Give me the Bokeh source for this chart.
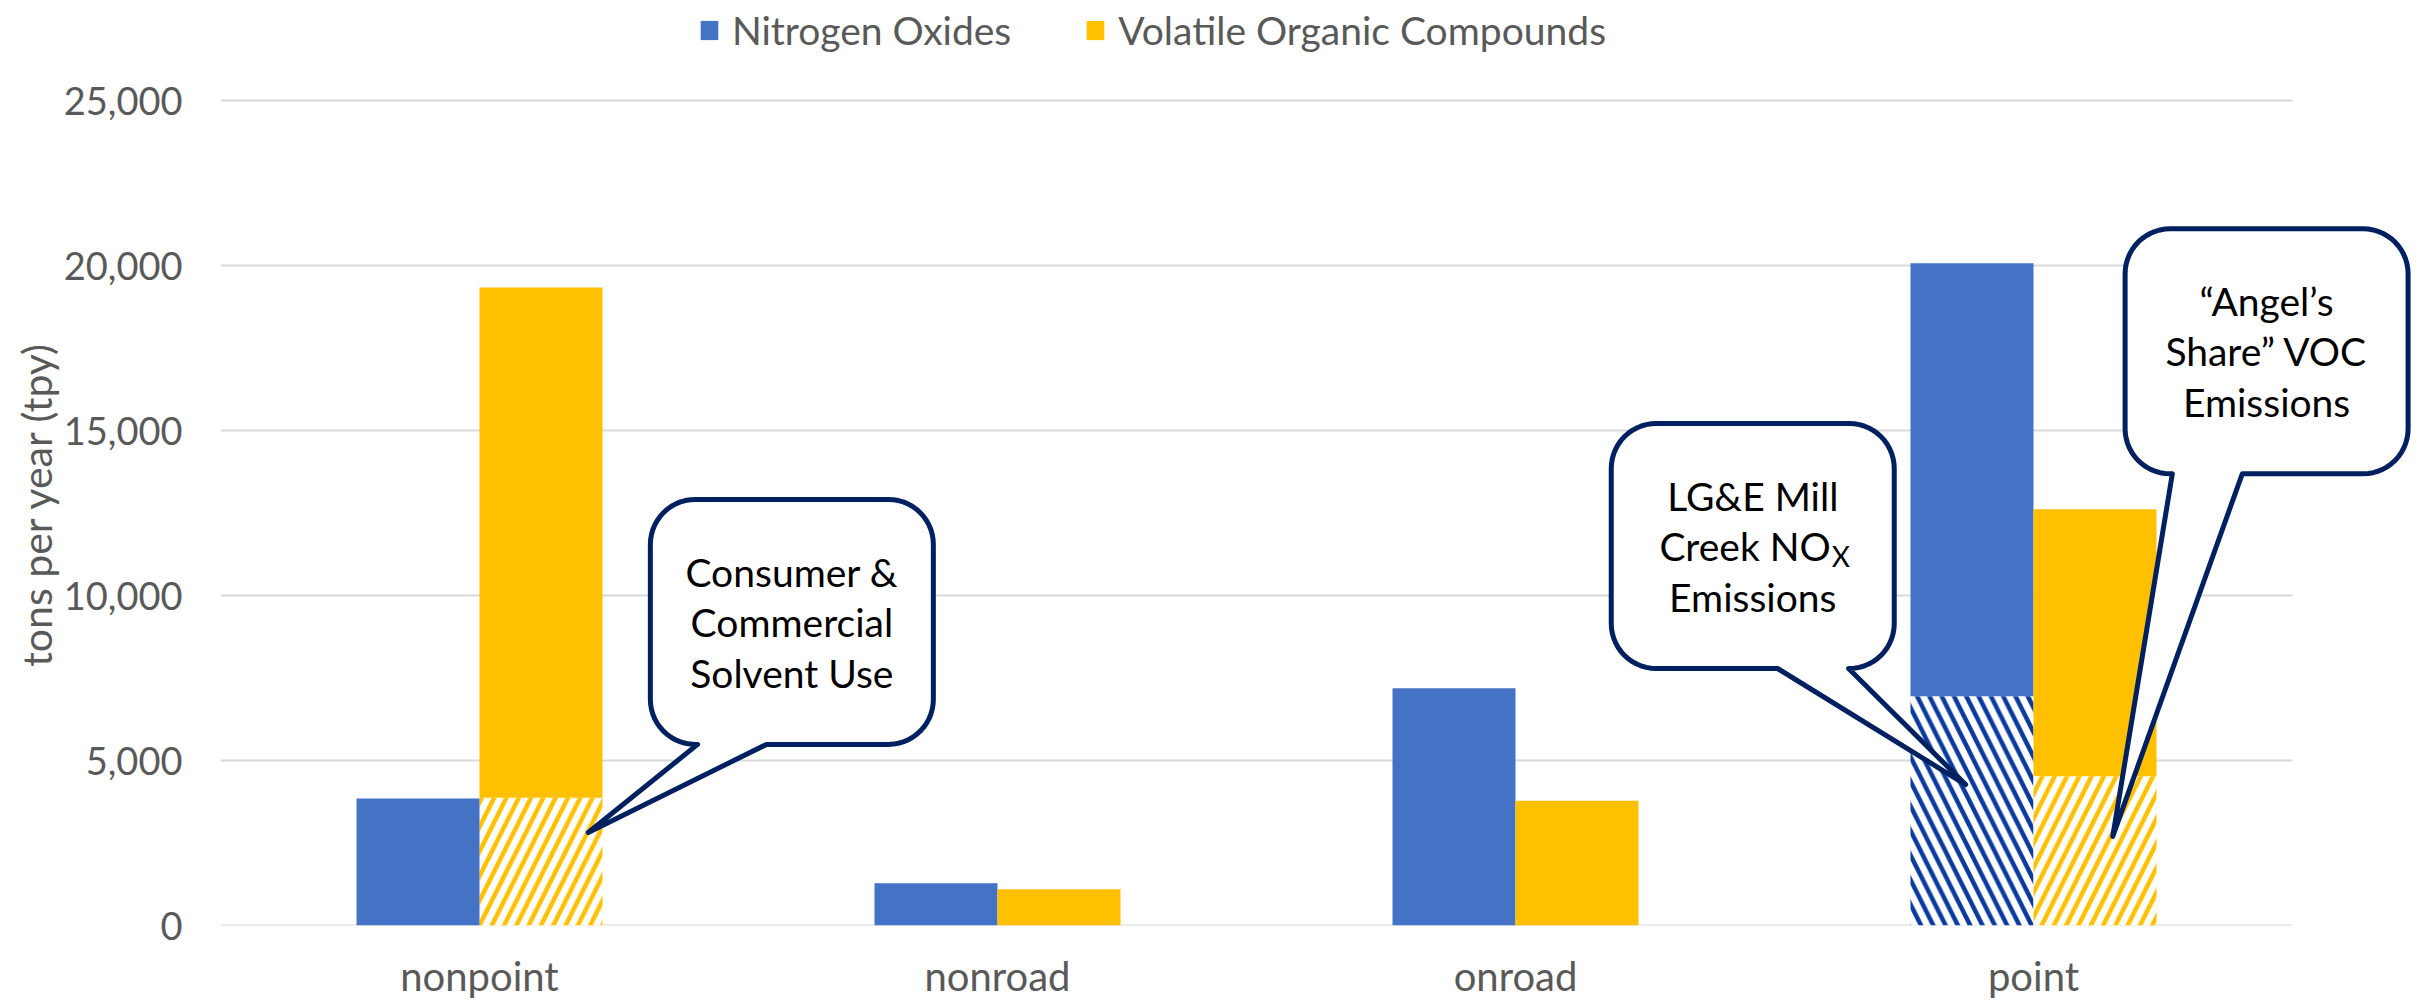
import math
from bokeh.plotting import figure
from bokeh.models import (FixedTicker, NumeralTickFormatter, Legend, LegendItem, Range1d)
from bokeh.core.properties import value
from bokeh.embed import file_html
from bokeh.resources import INLINE

# ---------------- data ----------------
categories = ["nonpoint", "nonroad", "onroad", "point"]
series_names = ["Nitrogen Oxides", "Volatile Organic Compounds"]
nox_total = [3850, 1280, 7190, 20070]
voc_total = [19330, 1100, 3780, 12610]
nox_hatched = [0, 0, 0, 6950]      # LG&E Mill Creek NOx
voc_hatched = [3870, 0, 0, 4520]   # consumer solvents / "Angel's share"
y_ticks = [0, 5000, 10000, 15000, 20000, 25000]
y_label = "tons per year (tpy)"

# callouts: text lines, box centre (category units, tons), tail tip, tail base x's
callouts = [
    dict(lines=["Consumer &", "Commercial", "Solvent Use"],
         cx=1.103, cy=9200, tip=(0.710, 2820), base=(0.921, 1.054)),
    dict(lines=["LG&E Mill", ("Creek NO", "X"), "Emissions"],
         cx=2.958, cy=11500, tip=(3.369, 4270), base=(3.006, 3.143)),
    dict(lines=["\u201cAngel\u2019s", "Share\u201d VOC", "Emissions"],
         cx=3.950, cy=17400, tip=(3.653, 2700), base=(3.768, 3.903)),
]

# ---------------- style ----------------
BLUE = "#4472C4"
YELLOW = "#FFC000"
NAVY = "#002060"
HATCH_BLUE = "#0B3A9E"
GRID = "#D9D9D9"
TEXT = "#595959"
FONT = "Lato"

W, H = 2417, 1002
LEFT, BOTTOM = 220, 77
AXIS_TOP_PX = 100                    # pixel row of the top gridline
frame_w = W - LEFT
frame_h = H - BOTTOM
CAT_PX = 518.0                       # pixels per category
x_end = frame_w / CAT_PX
PX_PER_TON = (frame_h - AXIS_TOP_PX) / float(y_ticks[-1])
y_end = frame_h / PX_PER_TON
bar_w = 123.0 / CAT_PX

p = figure(width=W, height=H,
           x_range=Range1d(0, x_end), y_range=Range1d(0, y_end),
           min_border_left=LEFT, min_border_right=0,
           min_border_top=0, min_border_bottom=BOTTOM,
           toolbar_location=None, output_backend="svg")
p.outline_line_color = None
p.xgrid.visible = False
p.ygrid.visible = False
p.background_fill_color = "white"
p.border_fill_color = "white"

# gridlines (span only the 4 categories)
p.segment(x0=[0] * len(y_ticks), x1=[len(categories)] * len(y_ticks),
          y0=y_ticks, y1=y_ticks, line_color=GRID, line_width=2)

nox_x = [i + 0.5 - bar_w / 2 for i in range(len(categories))]
voc_x = [i + 0.5 + bar_w / 2 for i in range(len(categories))]

# hatched lower parts
p.vbar(x=nox_x, width=bar_w, bottom=0, top=nox_hatched,
       fill_color="white", line_color=None,
       hatch_pattern="\\", hatch_color=HATCH_BLUE, hatch_scale=24.6, hatch_weight=4.5)
p.vbar(x=voc_x, width=bar_w, bottom=0, top=voc_hatched,
       fill_color="white", line_color=None,
       hatch_pattern="/", hatch_color=YELLOW, hatch_scale=24.6, hatch_weight=4.5)

# solid parts
r_nox = p.vbar(x=nox_x, width=bar_w, bottom=nox_hatched, top=nox_total,
               fill_color=BLUE, line_color=None)
r_voc = p.vbar(x=voc_x, width=bar_w, bottom=voc_hatched, top=voc_total,
               fill_color=YELLOW, line_color=None)

# ---------------- callouts ----------------
BOX_W, BOX_H, RAD = 283.0, 245.0, 45.0
LINE_OFFS = [50, 0, -51]  # px, up positive


def callout_path(c):
    a, b, r = BOX_W / 2, BOX_H / 2, RAD
    pts = []

    def arc(ccx, ccy, a0, a1, n=14):
        for k in range(n + 1):
            t = math.radians(a0 + (a1 - a0) * k / n)
            pts.append((ccx + r * math.cos(t), ccy + r * math.sin(t)))

    pts.append((-a + r, b))
    arc(a - r, b - r, 90, 0)
    arc(a - r, -b + r, 0, -90)
    bx1 = (c["base"][0] - c["cx"]) * CAT_PX
    bx2 = (c["base"][1] - c["cx"]) * CAT_PX
    tx = (c["tip"][0] - c["cx"]) * CAT_PX
    ty = (c["tip"][1] - c["cy"]) * PX_PER_TON
    pts += [(bx2, -b), (tx, ty), (bx1, -b)]
    arc(-a + r, -b + r, -90, -180)
    arc(-a + r, b - r, 180, 90)
    xs = [c["cx"] + px / CAT_PX for px, py in pts]
    ys = [c["cy"] + py / PX_PER_TON for px, py in pts]
    return xs, ys


for c in callouts:
    xs, ys = callout_path(c)
    p.patch(xs, ys, fill_color="white", line_color=NAVY, line_width=5,
            line_join="round")
    for line, off in zip(c["lines"], LINE_OFFS):
        yy = c["cy"] + off / PX_PER_TON
        if isinstance(line, tuple):
            main, sub = line
            xr = c["cx"] + 78 / CAT_PX
            p.text(x=[xr], y=[yy], text=[main], text_align="right",
                   text_baseline="middle", text_font=value(FONT),
                   text_font_size="39px", text_color="black")
            p.text(x=[xr + 1 / CAT_PX], y=[yy - 10 / PX_PER_TON], text=[sub],
                   text_align="left", text_baseline="middle",
                   text_font=value(FONT), text_font_size="28px",
                   text_color="black")
        else:
            p.text(x=[c["cx"]], y=[yy], text=[line], text_align="center",
                   text_baseline="middle", text_font=value(FONT),
                   text_font_size="39px", text_color="black")

# ---------------- axes ----------------
xa = p.xaxis[0]
xa.ticker = FixedTicker(ticks=[i + 0.5 for i in range(len(categories))])
xa.major_label_overrides = {i + 0.5: cat for i, cat in enumerate(categories)}
xa.axis_line_color = None
xa.major_tick_line_color = None
xa.minor_tick_line_color = None
xa.major_tick_out = 0
xa.major_tick_in = 0
xa.major_label_text_font = FONT
xa.major_label_text_font_size = "40px"
xa.major_label_text_color = TEXT
xa.major_label_standoff = 26

ya = p.yaxis[0]
ya.ticker = FixedTicker(ticks=y_ticks)
ya.formatter = NumeralTickFormatter(format="0,0")
ya.axis_line_color = None
ya.major_tick_line_color = None
ya.minor_tick_line_color = None
ya.major_tick_out = 0
ya.major_tick_in = 0
ya.major_label_text_font = FONT
ya.major_label_text_font_size = "38px"
ya.major_label_text_color = TEXT
ya.major_label_standoff = 38
# trailing em/en spaces shift the (frame-centred) title down so that it is
# centred on the 0..25,000 span as in the original
ya.axis_label = y_label + "\u2003\u2003\u2002"
ya.axis_label_text_font = FONT
ya.axis_label_text_font_size = "41px"
ya.axis_label_text_font_style = "normal"
ya.axis_label_text_color = TEXT
ya.axis_label_standoff = 0

# ---------------- legend (top of the plot area) ----------------
legend = Legend(items=[LegendItem(label=series_names[0], renderers=[r_nox]),
                       LegendItem(label=series_names[1], renderers=[r_voc])],
                orientation="horizontal", location=(478, frame_h - 53),
                glyph_width=22, glyph_height=24, label_standoff=12,
                spacing=73, padding=0, margin=0,
                border_line_color=None, background_fill_alpha=0,
                label_text_font=FONT, label_text_font_size="39px",
                label_text_line_height=1.0,
                label_text_color=TEXT)
p.add_layout(legend)

open("out.html", "w").write(file_html(p, INLINE))
